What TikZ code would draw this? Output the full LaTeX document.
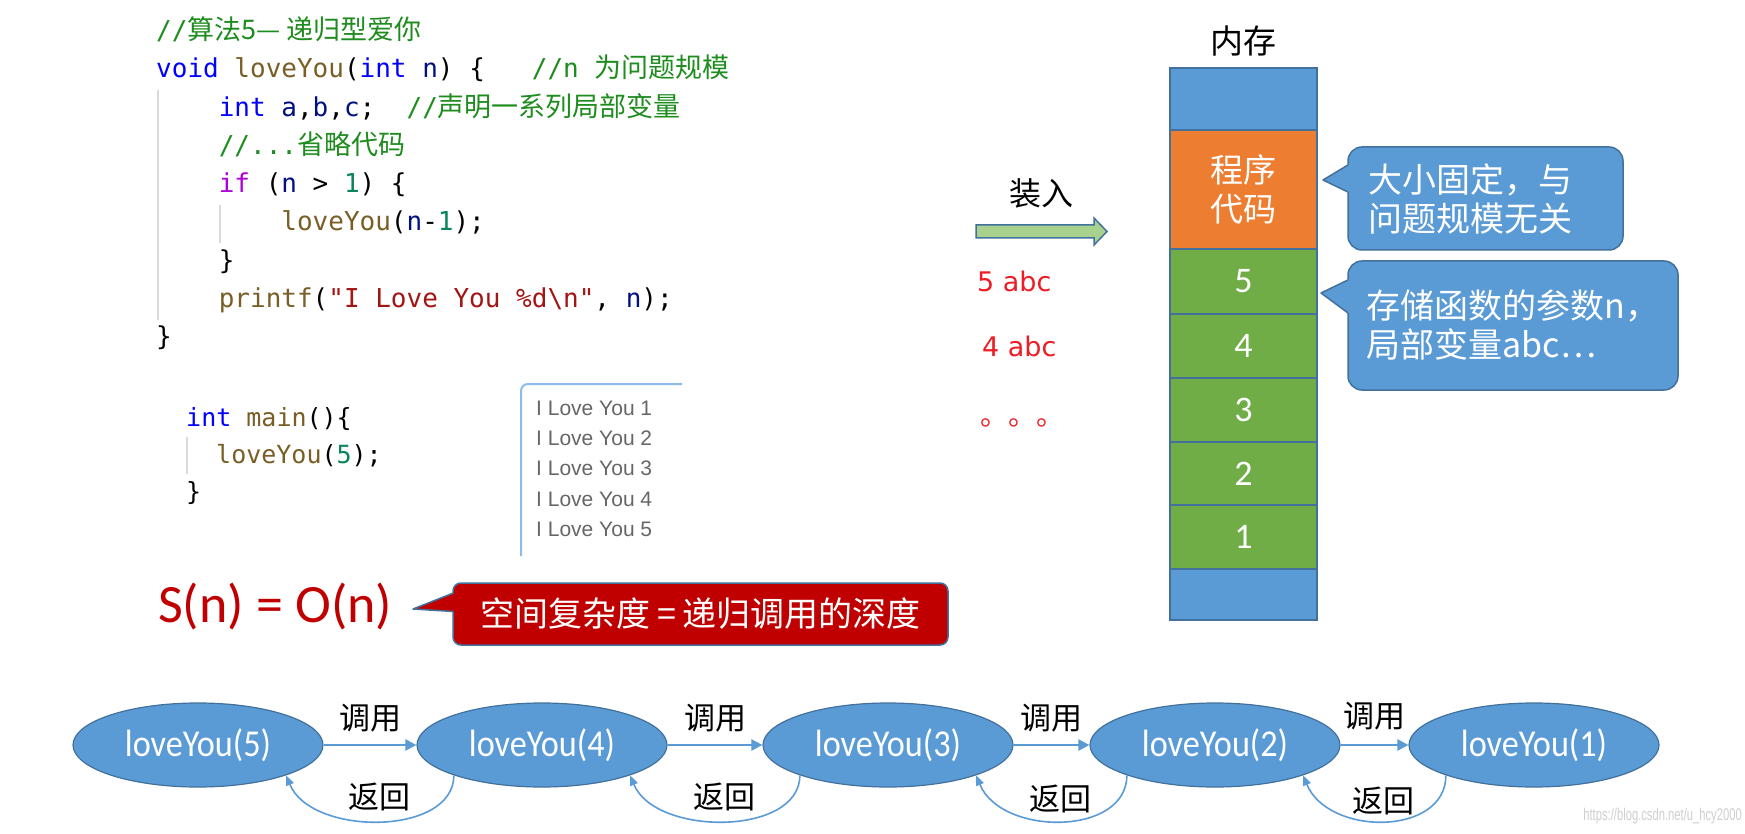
\documentclass[tikz,border=0pt]{standalone}
\usepackage{fontspec}
\setmainfont{Carlito}
\newfontfamily\cjk{Noto Sans CJK SC}
\newfontfamily\codemono{DejaVu Sans Mono}
\newfontfamily\dvs{DejaVu Sans}
\newfontfamily\arialf{Liberation Sans}
\newfontfamily\wmfont[FakeStretch=0.66]{Liberation Sans}
\newfontfamily\carln[FakeStretch=0.9]{Carlito}
\usetikzlibrary{arrows.meta,calc,shapes.geometric}

\definecolor{mblue}{HTML}{5B9BD5}
\definecolor{mborder}{HTML}{41719C}
\definecolor{morange}{HTML}{ED7D31}
\definecolor{mgreen}{HTML}{70AD47}
\definecolor{lgreen}{HTML}{A9D18E}
\definecolor{dred}{HTML}{C00000}
\definecolor{ckw}{HTML}{0000FF}
\definecolor{cfn}{HTML}{795E26}
\definecolor{cvar}{HTML}{001080}
\definecolor{cnum}{HTML}{098658}
\definecolor{cif}{HTML}{AF00DB}
\definecolor{cstr}{HTML}{A31515}
\definecolor{ccom}{HTML}{1E8C1E}
\definecolor{guide}{HTML}{DADADA}
\definecolor{outblue}{HTML}{8CBCEB}
\definecolor{outtxt}{HTML}{666666}
\definecolor{wmgray}{HTML}{CFCFCF}
\definecolor{redtxt}{HTML}{EE1C25}

\newcommand\fsz[2]{\fontsize{#1}{#2}\selectfont}
\newcommand\Kw[1]{\textcolor{ckw}{#1}}
\newcommand\Fn[1]{\textcolor{cfn}{#1}}
\newcommand\Va[1]{\textcolor{cvar}{#1}}
\newcommand\Nm[1]{\textcolor{cnum}{#1}}
\newcommand\Kif[1]{\textcolor{cif}{#1}}
\newcommand\St[1]{\textcolor{cstr}{#1}}
\newcommand\Cm[1]{\textcolor{ccom}{#1}}
\newcommand\cjkc{\cjk\fsz{27}{27}}

\begin{document}
\begin{tikzpicture}[x=1pt,y=-1pt,
  codeline/.style={anchor=west, inner sep=0pt, font=\codemono\fsz{26}{26}, text height=19pt, text depth=6pt},
  mainline/.style={anchor=west, inner sep=0pt, font=\codemono\fsz{25}{25}, text height=18pt, text depth=6pt},
  guideline/.style={draw=guide, line width=1.2pt},
  outline/.style={anchor=west, inner sep=0pt, font=\arialf\fsz{21}{21}, text=outtxt},
  memcell/.style={draw=mborder, line width=2pt, minimum width=147pt, inner sep=0pt, text=white},
  callnode/.style={ellipse, draw=mborder, line width=1.2pt, fill=mblue, minimum width=250pt, minimum height=84pt, inner sep=0pt, text=white, font=\carln\fsz{38}{38}},
  callarr/.style={draw=mblue, line width=2.5pt, -{Triangle[length=11pt,width=11pt]}},
  retarr/.style={draw=mblue, line width=1.6pt, -{Triangle[length=10pt,width=8pt]}},
  lab/.style={font=\cjk\fsz{31}{31}, text=black, inner sep=0pt},
  bubble/.style={fill=mblue, draw=mborder, line width=1.5pt, rounded corners=14pt, text=white, font=\cjk\fsz{34}{39}, align=left},
  redbubble/.style={fill=dred, draw=mborder, line width=1.5pt, rounded corners=8pt, text=white, font=\cjk\fsz{34}{34}},
  redlab/.style={text=redtxt, font=\dvs\fsz{27}{27}, anchor=west, inner sep=0pt}
]
\useasboundingbox (0,0) rectangle (1745,834);
\fill[white] (0,0) rectangle (1745,834);

% ---- code: loveYou ----
\draw[guideline] (158,90) -- (158,320);
\draw[guideline] (220,205) -- (220,243);
\node[codeline] (c0) at (156,33) {\Cm{//{\cjkc 算法5—~递归型爱你}}};
\node[codeline] (c1) at (156,71.3) {\Kw{void} \Fn{loveYou}(\Kw{int} \Va{n}) \{~~~\Cm{//n {\cjkc 为问题规模}}};
\node[codeline] (c2) at (218.6,109.6) {\Kw{int} \Va{a},\Va{b},\Va{c};~~\Cm{//{\cjkc 声明一系列局部变量}}};
\node[codeline] (c3) at (218.6,147.9) {\Cm{//...{\cjkc 省略代码}}};
\node[codeline] (c4) at (218.6,186.2) {\Kif{if} (\Va{n} > \Nm{1}) \{};
\node[codeline] (c5) at (281.2,224.5) {\Fn{loveYou}(\Va{n}-\Nm{1});};
\node[codeline] (c6) at (218.6,262.8) {\}};
\node[codeline] (c7) at (218.6,301.1) {\Fn{printf}(\St{"I Love You \%d\textbackslash n"}, \Va{n});};
\node[codeline] (c8) at (156,339.4) {\}};

% ---- code: main ----
\draw[guideline] (187,437) -- (187,474);
\node[mainline] (m0) at (186,420) {\Kw{int} \Fn{main}()\{};
\node[mainline] (m1) at (216,457) {\Fn{loveYou}(\Nm{5});};
\node[mainline] (m2) at (186,494) {\}};

% ---- output box ----
\draw[draw=outblue, line width=2pt, rounded corners=7pt] (682,384) -- (521,384) -- (521,556);
\node[outline] (o1) at (536,408) {I Love You 1};
\node[outline] (o2) at (536,438.3) {I Love You 2};
\node[outline] (o3) at (536,468.6) {I Love You 3};
\node[outline] (o4) at (536,498.9) {I Love You 4};
\node[outline] (o5) at (536,529.2) {I Love You 5};

% ---- S(n) = O(n) and red callout ----
\node[anchor=west, inner sep=0pt, text=dred, font=\fsz{54}{54}] (sn) at (158,606) {S(n) = O(n)};
\node[redbubble, minimum width=495pt, minimum height=62pt] (rc) at (700.5,614) {空间复杂度\hspace{7pt}=\hspace{7pt}递归调用的深度};
\fill[dred] (456,592) -- (413,609) -- (456,612) -- cycle;
\draw[mborder, line width=1.5pt, line join=round] (453.5,593) -- (413,609) -- (453.5,611.5);

% ---- load arrow ----
\node[lab, font=\cjk\fsz{32}{32}] (load) at (1041,193) {装入};
\draw[fill=lgreen, draw=mborder, line width=1.5pt] (976,225) -- (1094,225) -- (1094,218) -- (1107,231.5) -- (1094,245) -- (1094,238) -- (976,238) -- cycle;
\node[redlab] (r5) at (977,281) {5 abc};
\node[redlab] (r4) at (982,346) {4 abc};
\node[anchor=base west, inner sep=0pt, text=redtxt, font=\cjk\fsz{28}{28}] (rdots) at (980,425) {。。。};

% ---- memory ----
\node[lab, font=\cjk\fsz{33}{33}] (memtitle) at (1243.5,41) {内存};
\node[memcell, fill=mblue, minimum height=62pt] (mtop) at (1243.5,99) {};
\node[memcell, fill=morange, minimum height=119pt, font=\cjk\fsz{33}{39}, align=center] (mcode) at (1243.5,189.5) {程序\\代码};
\node[memcell, fill=mgreen, minimum height=65pt, font=\fsz{36}{36}] (s5) at (1243.5,281.5) {5};
\node[memcell, fill=mgreen, minimum height=64pt, font=\fsz{36}{36}] (s4) at (1243.5,346) {4};
\node[memcell, fill=mgreen, minimum height=64pt, font=\fsz{36}{36}] (s3) at (1243.5,410) {3};
\node[memcell, fill=mgreen, minimum height=63pt, font=\fsz{36}{36}] (s2) at (1243.5,473.5) {2};
\node[memcell, fill=mgreen, minimum height=64pt, font=\fsz{36}{36}] (s1) at (1243.5,537) {1};
\node[memcell, fill=mblue, minimum height=51pt] (mbot) at (1243.5,594.5) {};

% ---- callouts ----
\node[bubble, minimum width=275pt, minimum height=103pt, text width=235pt, inner xsep=20pt] (b1) at (1485.5,198.5) {大小固定，与\\问题规模无关};
\fill[mblue] (1350,164) -- (1323,180) -- (1350,193) -- cycle;
\draw[mborder, line width=1.5pt, line join=round] (1348,165) -- (1323,180) -- (1348,192);
\node[bubble, minimum width=330pt, minimum height=129pt] (b2) at (1513,325.5) {存储函数的参数n，\\局部变量abc…};
\fill[mblue] (1350,279) -- (1321,293) -- (1350,314) -- cycle;
\draw[mborder, line width=1.5pt, line join=round] (1348,280) -- (1321,293) -- (1348,313);

% ---- recursion chain ----
\node[callnode] (l5) at (198,745) {loveYou(5)};
\node[callnode] (l4) at (542,745) {loveYou(4)};
\node[callnode] (l3) at (888,745) {loveYou(3)};
\node[callnode] (l2) at (1215,745) {loveYou(2)};
\node[callnode] (l1) at (1534,745) {loveYou(1)};

\draw[callarr] (l5) -- node[lab, midway, yshift=27pt] {调用} (l4);
\draw[callarr] (l4) -- node[lab, midway, yshift=27pt] {调用} (l3);
\draw[callarr] (l3) -- node[lab, midway, yshift=27pt] {调用} (l2);
\draw[callarr] (l2) -- node[lab, midway, yshift=29pt] {调用} (l1);

\draw[retarr] (l4.199) .. controls +(0,61) and +(25,61) .. node[lab, midway, yshift=24pt] {返回} (l5.341);
\draw[retarr] (l3.199) .. controls +(0,61) and +(25,61) .. node[lab, midway, yshift=24pt] {返回} (l4.341);
\draw[retarr] (l2.199) .. controls +(0,61) and +(25,61) .. node[lab, midway, yshift=22pt] {返回} (l3.341);
\draw[retarr] (l1.199) .. controls +(0,61) and +(25,61) .. node[lab, midway, yshift=20pt] {返回} (l2.341);

% ---- watermark ----
\node[anchor=east, inner sep=0pt, text=wmgray, font=\wmfont\fsz{17}{17}] (wm) at (1742,816) {https://blog.csdn.net/u\_hcy2000};
\end{tikzpicture}
\end{document}
